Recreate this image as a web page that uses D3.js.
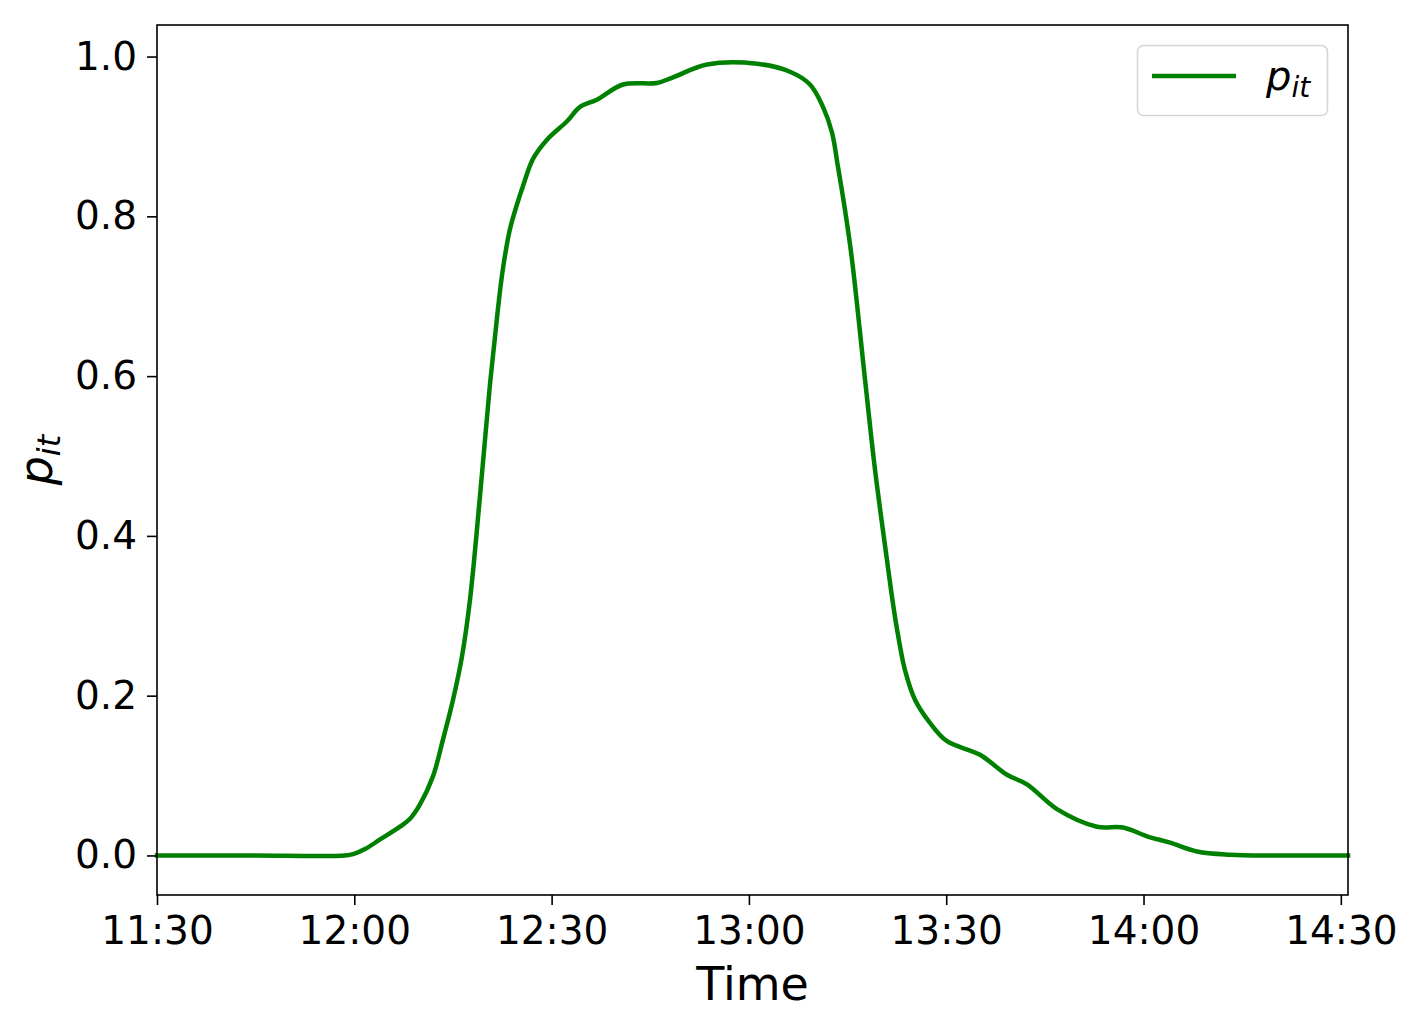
<!DOCTYPE html>
<html>
<head>
<meta charset="utf-8">
<script src="https://cdn.jsdelivr.net/npm/d3@7"></script>
<style>
  body { margin: 0; background: #fff; }
  text { font-family: "DejaVu Sans", sans-serif; fill: #000; }
</style>
</head>
<body>
<svg id="chart" width="1415" height="1023"></svg>
<script>
// minutes after 11:30
const MINUTES = [0, 14, 28.58, 29.95, 31.63, 33.91, 36.95, 38.47, 39.99, 41.96, 43.48, 45.01,
  46.37, 47.59, 49.11, 50.63, 51.85, 52.61, 53.67, 54.74, 55.65, 57.17, 59.30, 62.34,
  64.32, 66.90, 70.85, 76.02, 78.46, 83.62, 91.23, 96.24, 99.29, 101.26, 102.63, 103.54,
  104.61, 105.67, 107.65, 109.17, 110.99, 111.91, 112.67, 113.73, 115.25, 117.53, 120.12,
  125.13, 129.24, 132.28, 136.84, 142.92, 146.88, 150.52, 154.02, 158.13, 163.14, 170, 181.09];

// p_it at each of those times
const P_IT = [0, 0, 0, 0.002, 0.008, 0.02, 0.036, 0.046, 0.064, 0.099, 0.145, 0.195,
  0.249, 0.32, 0.45, 0.59, 0.685, 0.735, 0.784, 0.815, 0.838, 0.872, 0.896, 0.919,
  0.937, 0.946, 0.965, 0.967, 0.974, 0.99, 0.991, 0.981, 0.965, 0.937, 0.905, 0.862,
  0.808, 0.746, 0.596, 0.483, 0.37, 0.315, 0.276, 0.232, 0.195, 0.166, 0.143,
  0.126, 0.101, 0.089, 0.058, 0.036, 0.035, 0.024, 0.016, 0.005, 0.001, 0, 0];

const Y_TICKS = [0, 0.2, 0.4, 0.6, 0.8, 1.0];
const X_TICK_LABELS = ["11:30", "12:00", "12:30", "13:00", "13:30", "14:00", "14:30"];

const start = new Date(2000, 0, 1, 11, 30);
function toDate(m) {
  return new Date(start.getTime() + m * 60000);
}

const data = MINUTES.map((m, i) => ({t: toDate(m), p: P_IT[i]}));

const plotLeft = 157, plotRight = 1348, plotTop = 25, plotBottom = 895;
const svg = d3.select("#chart");

const xScale = d3.scaleTime()
  .domain([start, toDate(181.09)])
  .range([plotLeft, plotRight]);

const yScale = d3.scaleLinear()
  .domain([-0.0495, 1.0395])
  .range([plotBottom, plotTop]);

const parse = d3.timeParse("%H:%M");
const xTicks = X_TICK_LABELS.map(s => {
  const d = parse(s);
  return new Date(2000, 0, 1, d.getHours(), d.getMinutes());
});

// line
const line = d3.line()
  .x(d => xScale(d.t))
  .y(d => yScale(d.p))
  .curve(d3.curveCatmullRom.alpha(0.5));

svg.append("path")
  .datum(data)
  .attr("d", line)
  .attr("fill", "none")
  .attr("stroke", "#008000")
  .attr("stroke-width", 4.5)
  .attr("stroke-linejoin", "round")
  .attr("stroke-linecap", "square");

// axes
const xAxis = svg.append("g")
  .attr("transform", `translate(0, ${plotBottom})`)
  .call(d3.axisBottom(xScale)
    .tickValues(xTicks)
    .tickFormat(d3.timeFormat("%H:%M"))
    .tickSize(10)
    .tickPadding(11)
    .tickSizeOuter(0));

const yAxis = svg.append("g")
  .attr("transform", `translate(${plotLeft}, 0)`)
  .call(d3.axisLeft(yScale)
    .tickValues(Y_TICKS)
    .tickFormat(d3.format(".1f"))
    .tickSize(10)
    .tickPadding(10)
    .tickSizeOuter(0));

for (const g of [xAxis, yAxis]) {
  g.select(".domain").remove();
  g.selectAll(".tick line").attr("stroke", "#000").attr("stroke-width", 1.6);
  g.selectAll(".tick text")
    .style("font-family", "DejaVu Sans")
    .style("font-size", "39px")
    .attr("fill", "#000");
}

// frame
svg.append("rect")
  .attr("x", plotLeft).attr("y", plotTop)
  .attr("width", plotRight - plotLeft).attr("height", plotBottom - plotTop)
  .attr("fill", "none")
  .attr("stroke", "#000")
  .attr("stroke-width", 1.6);

// axis labels
svg.append("text")
  .attr("x", (plotLeft + plotRight) / 2)
  .attr("y", 1000)
  .attr("text-anchor", "middle")
  .style("font-size", "46px")
  .text("Time");

const ylab = svg.append("text")
  .attr("transform", `translate(52, ${(plotTop + plotBottom) / 2}) rotate(-90)`)
  .attr("text-anchor", "middle")
  .style("font-size", "46px");
ylab.append("tspan").style("font-style", "italic").text("p");
ylab.append("tspan").style("font-style", "italic").style("font-size", "32px")
  .attr("dy", 8).text("it");

// legend
svg.append("rect")
  .attr("x", 1137.5).attr("y", 45.5)
  .attr("width", 190).attr("height", 70)
  .attr("rx", 6)
  .attr("fill", "#fff")
  .attr("stroke", "#d6d6d6")
  .attr("stroke-width", 1.6);

svg.append("line")
  .attr("x1", 1152).attr("x2", 1236)
  .attr("y1", 76).attr("y2", 76)
  .attr("stroke", "#008000")
  .attr("stroke-width", 4.5);

const leg = svg.append("text")
  .attr("x", 1266)
  .attr("y", 90)
  .style("font-size", "40px");
leg.append("tspan").style("font-style", "italic").text("p");
leg.append("tspan").style("font-style", "italic").style("font-size", "28px")
  .attr("dy", 7).text("it");
</script>
</body>
</html>
